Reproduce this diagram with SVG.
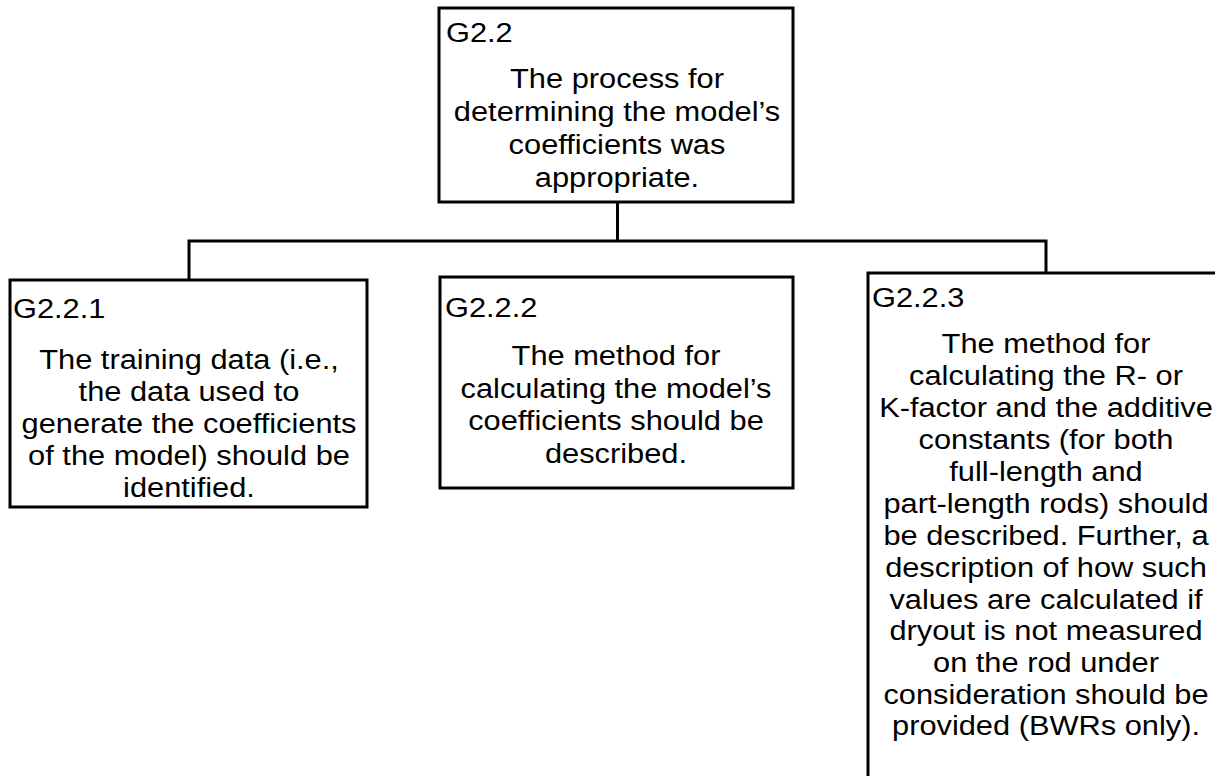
<svg xmlns="http://www.w3.org/2000/svg" width="1215" height="776" viewBox="0 0 1215 776">
  <style>
    .box { fill: #ffffff; stroke: #000000; stroke-width: 3; }
    .wire { fill: none; stroke: #000000; stroke-width: 3; }
    text { font-family: "Liberation Sans", Arial, sans-serif; font-size: 28px; fill: #000000; }
    .body { text-anchor: middle; }
  </style>
  <rect width="1215" height="776" fill="#ffffff"/>

  <!-- tree connectors -->
  <g id="connectors">
    <path class="wire" d="M617.5 202 V241 M189 280 V241 H1046 V273"/>
  </g>

  <!-- parent goal -->
  <g id="G2.2">
    <rect class="box" x="439" y="8" width="354" height="194"/>
    <g transform="translate(446 0) scale(1.1 1)">
      <text x="0" y="42">G2.2</text>
    </g>
    <g transform="translate(617 0) scale(1.1 1)">
      <text class="body" x="0" y="88">The process for</text>
      <text class="body" x="0" y="121">determining the model’s</text>
      <text class="body" x="0" y="154">coefficients was</text>
      <text class="body" x="0" y="187">appropriate.</text>
    </g>
  </g>

  <!-- sub-goal 1 -->
  <g id="G2.2.1">
    <rect class="box" x="10" y="280" width="357" height="227"/>
    <g transform="translate(13 0) scale(1.1 1)">
      <text x="0" y="318">G2.2.1</text>
    </g>
    <g transform="translate(189 0) scale(1.1 1)">
      <text class="body" x="0" y="369">The training data (i.e.,</text>
      <text class="body" x="0" y="401">the data used to</text>
      <text class="body" x="0" y="433">generate the coefficients</text>
      <text class="body" x="0" y="465">of the model) should be</text>
      <text class="body" x="0" y="497">identified.</text>
    </g>
  </g>

  <!-- sub-goal 2 -->
  <g id="G2.2.2">
    <rect class="box" x="440" y="277" width="353" height="211"/>
    <g transform="translate(445 0) scale(1.1 1)">
      <text x="0" y="317">G2.2.2</text>
    </g>
    <g transform="translate(616 0) scale(1.1 1)">
      <text class="body" x="0" y="365">The method for</text>
      <text class="body" x="0" y="398">calculating the model’s</text>
      <text class="body" x="0" y="430">coefficients should be</text>
      <text class="body" x="0" y="463">described.</text>
    </g>
  </g>

  <!-- sub-goal 3 -->
  <g id="G2.2.3">
    <rect class="box" x="868" y="273" width="356" height="520"/>
    <g transform="translate(872 0) scale(1.1 1)">
      <text x="0" y="307">G2.2.3</text>
    </g>
    <g transform="translate(1046 0) scale(1.1 1)">
      <text class="body" x="0" y="353">The method for</text>
      <text class="body" x="0" y="385">calculating the R- or</text>
      <text class="body" x="0" y="417">K-factor and the additive</text>
      <text class="body" x="0" y="449">constants (for both</text>
      <text class="body" x="0" y="481">full-length and</text>
      <text class="body" x="0" y="513">part-length rods) should</text>
      <text class="body" x="0" y="545">be described. Further, a</text>
      <text class="body" x="0" y="577">description of how such</text>
      <text class="body" x="0" y="609">values are calculated if</text>
      <text class="body" x="0" y="640">dryout is not measured</text>
      <text class="body" x="0" y="672">on the rod under</text>
      <text class="body" x="0" y="704">consideration should be</text>
      <text class="body" x="0" y="735">provided (BWRs only).</text>
    </g>
  </g>
</svg>
